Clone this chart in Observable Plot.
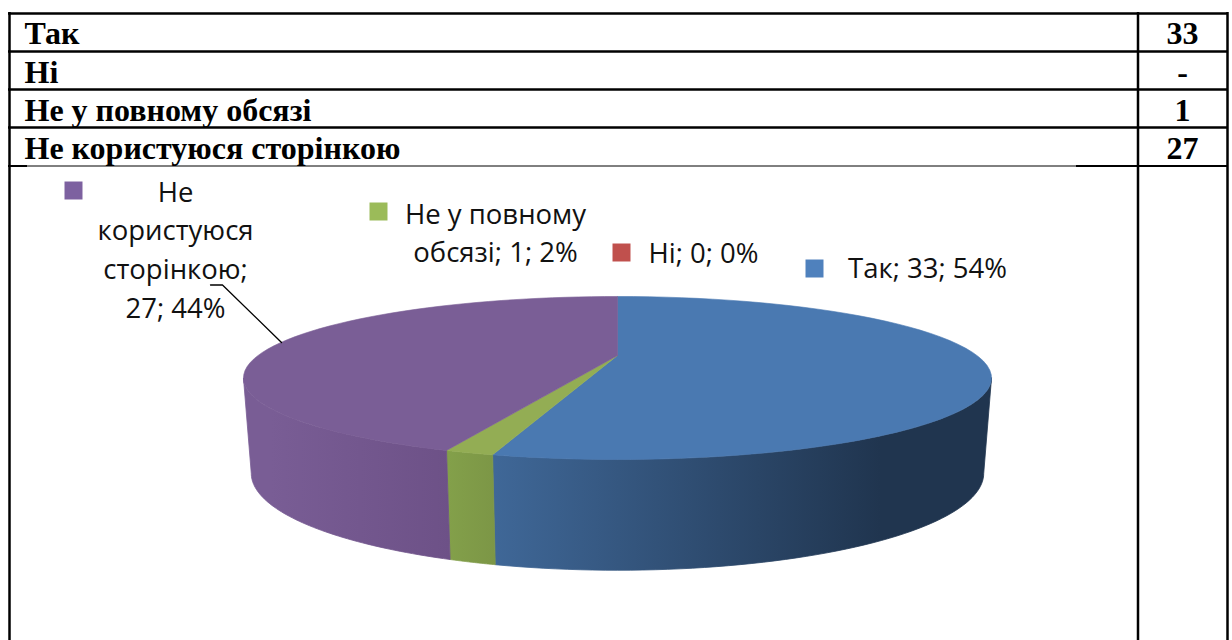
<!DOCTYPE html>
<html><head><meta charset="utf-8">
<script src="https://cdn.jsdelivr.net/npm/d3@7"></script>
<script src="https://cdn.jsdelivr.net/npm/@observablehq/plot@0.6"></script>
<style>html,body{margin:0;padding:0;background:#fff}svg{display:block}</style>
</head><body><div id="c"></div>
<script>
// Data
const categories = ["Так", "Ні", "Не у повному обсязі", "Не користуюся сторінкою"];
const values = [33, 0, 1, 27];
const tableValues = ["33", "-", "1", "27"];
const percents = [54, 0, 2, 44];
const labelTexts = ["Так; 33; 54%", "Ні; 0; 0%", "Не у повному\nобсязі; 1; 2%", "Не\nкористуюся\nсторінкою;\n27; 44%"];
const topColors = ["#4a79b1", "#be4f4c", "#93ad54", "#7a5e96"];
const keyColors = ["#4f81bd", "#c0504d", "#9bbb59", "#7d61a0"];

// Layout
const W = 1232, H = 640;
const rowBottoms = [51, 89, 127];
const rowBaselines = [43, 82, 120, 158];
const labelFont = 27.5, labelLine = 39;
const labelPos = [[927, 277], [703, 262], [495, 223], [175, 201]];
const keyPos = [[814, 268], [621, 252], [378, 211], [73, 190]];

// Perspective ring: fraction of the circle -> page position
const k = 0.276, cx = 617;
const topRing = {y0: 355, a: 75.3, b: 359.5};
const botRing = {y0: 446, a: 89.6, b: 352};
const ring = (r, th) => {
  const u = -Math.cos(th), v = Math.sin(th), d = 1 - k * u;
  return {x: cx + r.b * v / d, y: r.y0 + r.a * u / d};
};
const total = d3.sum(values);
const cum = d3.cumsum(values);
const slices = categories.map((c, i) => ({
  name: c, i,
  a0: (i ? cum[i - 1] : 0) / total * 2 * Math.PI,
  a1: cum[i] / total * 2 * Math.PI
}));
const arc = (r, a0, a1) => d3.range(0, 61).map(t => ring(r, a0 + (a1 - a0) * t / 60));

const topPoly = s => [{x: cx, y: topRing.y0}, ...arc(topRing, s.a0, s.a1), {x: cx, y: topRing.y0}];
const thR = Math.acos(-k), thL = 2 * Math.PI - thR;
const sidePoly = s => {
  const a0 = Math.max(s.a0, thR), a1 = Math.min(s.a1, thL);
  if (a1 <= a0) return [];
  const pts = [...arc(topRing, a0, a1), ...arc(botRing, a0, a1).reverse()];
  return [...pts, pts[0]];
};

const gradients = [
  {id: "sb", x1: 495, x2: 880, from: "#3f6797", to: "#20354f"},
  {id: "sr", x1: 480, x2: 490, from: "#9c403e", to: "#9c403e"},
  {id: "sg", x1: 447, x2: 495, from: "#83a04a", to: "#7c9646"},
  {id: "sp", x1: 270, x2: 450, from: "#795d95", to: "#6d5187"}
];
const defsMark = () => {
  const g = d3.create("svg:g");
  const defs = g.append("defs");
  gradients.forEach(d => {
    const lg = defs.append("linearGradient").attr("id", d.id)
      .attr("gradientUnits", "userSpaceOnUse")
      .attr("x1", d.x1).attr("x2", d.x2).attr("y1", 0).attr("y2", 0);
    lg.append("stop").attr("offset", 0).attr("stop-color", d.from);
    lg.append("stop").attr("offset", 1).attr("stop-color", d.to);
  });
  return g.node();
};

const serif = "'Liberation Serif'";
const sans = "'Open Sans'";
const labels = labelTexts.map((text, i) => ({
  text, x: labelPos[i][0], y: labelPos[i][1] - 0.71 * labelLine
}));

const plot = Plot.plot({
  width: W, height: H, margin: 0,
  x: {domain: [0, W], range: [0, W], axis: null},
  y: {domain: [0, H], range: [0, H], axis: null},
  style: {background: "#fff"},
  marks: [
    defsMark,
    // table frame
    Plot.ruleY([13, ...rowBottoms], {x1: 8, x2: 1228, stroke: "#000", strokeWidth: 2.5}),
    Plot.ruleY([165.5], {x1: 27, x2: 1076, stroke: "#000", strokeWidth: 1}),
    Plot.ruleY([165.5], {x1: 1076, x2: 1228, stroke: "#000", strokeWidth: 2}),
    Plot.ruleY([165.5], {x1: 8, x2: 27, stroke: "#000", strokeWidth: 2}),
    Plot.ruleX([9, 1137.5, 1227], {y1: 12, y2: H, stroke: "#000", strokeWidth: 2.5}),
    Plot.text(categories, {
      x: () => 24, y: (d, i) => rowBaselines[i], text: d => d, textAnchor: "start",
      lineAnchor: "bottom", fontFamily: serif, fontWeight: "bold", fontSize: 32, fill: "#000"
    }),
    Plot.text(tableValues, {
      x: () => 1182, y: (d, i) => rowBaselines[i], text: d => d, textAnchor: "middle",
      lineAnchor: "bottom", fontFamily: serif, fontWeight: "bold", fontSize: 32, fill: "#000"
    }),
    // side walls (stroked in their own paint so no seam shows under the top face)
    ...slices.map(s => Plot.line(sidePoly(s), {
      x: "x", y: "y", fill: `url(#${gradients[s.i].id})`, stroke: `url(#${gradients[s.i].id})`,
      strokeWidth: 0.8, curve: "linear"
    })),
    // top faces
    ...slices.map(s => Plot.line(topPoly(s), {
      x: "x", y: "y", fill: topColors[s.i], stroke: topColors[s.i], strokeWidth: s.a1 > s.a0 ? 0.6 : 0, curve: "linear"
    })),
    // leader
    Plot.line([{x: 210, y: 284.5}, {x: 222, y: 284.5}, {x: 281, y: 342}], {
      x: "x", y: "y", stroke: "#000", strokeWidth: 1.3, curve: "linear"
    }),
    // legend keys + labels
    Plot.dot(keyPos.map((p, i) => ({x: p[0], y: p[1], i})), {
      x: "x", y: "y", symbol: "square", r: 10.15,
      fill: d => keyColors[d.i], stroke: "none"
    }),
    Plot.text(labels, {
      x: "x", y: "y", text: "text", textAnchor: "middle", lineAnchor: "top",
      fontFamily: sans, fontSize: labelFont, lineHeight: labelLine / labelFont, fill: "#111"
    })
  ]
});
document.getElementById("c").appendChild(plot);
</script></body></html>
